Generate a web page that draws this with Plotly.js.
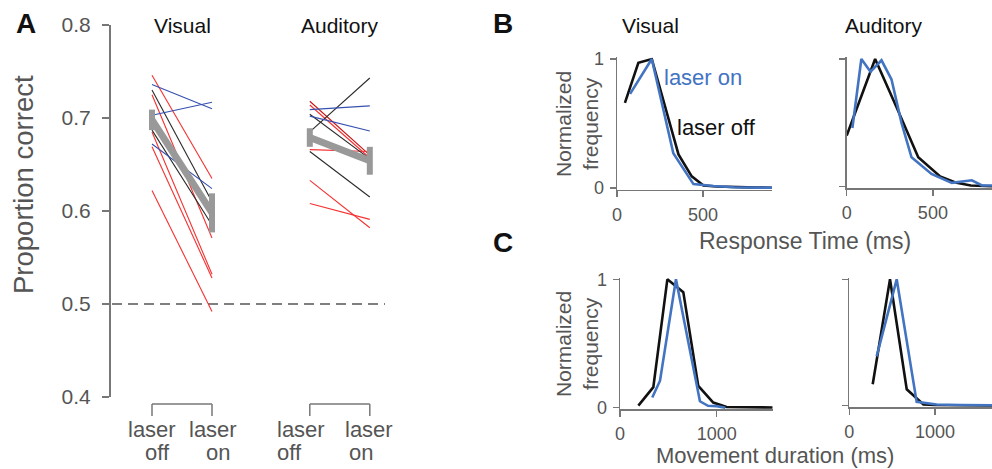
<!DOCTYPE html>
<html>
<head>
<meta charset="utf-8">
<script src="https://cdn.plot.ly/plotly-3.0.1.min.js"></script>
<style>html,body{margin:0;padding:0;background:#fff}#chart{width:992px;height:469px}</style>
</head>
<body>
<div id="chart"></div>
<script>
// ---------- Panel A data (proportion correct per mouse) ----------
const conditionLabels = ["laser off", "laser on"];
const visOffRed   = [0.746, 0.725, 0.685, 0.669, 0.622];
const visOnRed    = [0.635, 0.571, 0.532, 0.528, 0.492];
const visOffBlack = [0.730, 0.687];
const visOnBlack  = [0.610, 0.585];
const visOffBlue  = [0.736, 0.703, 0.672];
const visOnBlue   = [0.710, 0.717, 0.624];
const audOffRed   = [0.718, 0.714, 0.666, 0.633, 0.608];
const audOnRed    = [0.660, 0.657, 0.664, 0.582, 0.591];
const audOffBlack = [0.704, 0.685, 0.664];
const audOnBlack  = [0.656, 0.743, 0.615];
const audOffBlue  = [0.709, 0.702];
const audOnBlue   = [0.713, 0.686];
const visMean = [0.698, 0.598];
const visSem  = [0.011, 0.021];
const audMean = [0.679, 0.654];
const audSem  = [0.010, 0.015];
const yTicksA = [0.4, 0.5, 0.6, 0.7, 0.8];
const chanceLevel = 0.5;

// ---------- Panel B data (response time histograms) ----------
const rtVisOffX = [46, 124, 202, 280, 357, 434, 502, 580, 660, 740, 820, 900];
const rtVisOffY = [0.66, 0.97, 1.0, 0.63, 0.26, 0.09, 0.02, 0.012, 0.008, 0.005, 0.003, 0.002];
const rtVisOnX  = [76, 202, 327, 444, 560, 680, 800, 900];
const rtVisOnY  = [0.73, 1.0, 0.27, 0.03, 0.015, 0.006, 0.003, 0.002];
const rtAudOffX = [0, 165, 290, 415, 542, 638, 720, 800, 843];
const rtAudOffY = [0.40, 1.0, 0.62, 0.23, 0.08, 0.03, 0.01, 0.005, 0.003];
const rtAudOnX  = [33, 85, 138, 202, 260, 318, 376, 492, 610, 726, 785, 843];
const rtAudOnY  = [0.46, 1.0, 0.90, 0.99, 0.84, 0.50, 0.23, 0.10, 0.03, 0.05, 0.01, 0.01];

// ---------- Panel C data (movement duration histograms) ----------
const mdVisOffX = [190, 345, 490, 655, 810, 965, 1103, 1250, 1400, 1580];
const mdVisOffY = [0.016, 0.16, 1.0, 0.90, 0.17, 0.04, 0.005, 0.003, 0.002, 0.002];
const mdVisOnX  = [334, 414, 579, 827, 910, 1000, 1090];
const mdVisOnY  = [0.08, 0.21, 1.0, 0.05, 0.015, 0.012, 0.0];
const mdAudOffX = [273, 475, 670, 865, 1000, 1200, 1400, 1665];
const mdAudOffY = [0.17, 1.0, 0.13, 0.01, 0.005, 0.003, 0.002, 0.001];
const mdAudOnX  = [319, 553, 786, 1020, 1300, 1665];
const mdAudOnY  = [0.39, 1.0, 0.03, 0.01, 0.006, 0.003];

// ---------- layout helpers ----------
const W = 992, H = 469;
const fx = px => px / W;
const fy = py => 1 - py / H;
const GREY = "#555";
const AXC = "#777";
const RED = "#f53030", DARKRED = "#c81010", BLACK = "#2a2a2a", BLUE = "#3550b0";
const LBLUE = "#4274c2";
const FONT = "Liberation Sans, Arial, sans-serif";

// x positions of conditions in panel A (axis units)
const posVis = [0, 1];
const posAud = [2.63, 3.63];

const traces = [];
function pairLines(offArr, onArr, pos, color, ax) {
  offArr.forEach((v, i) => {
    traces.push({
      type: "scatter", mode: "lines", x: pos, y: [v, onArr[i]],
      xaxis: "x", yaxis: "y",
      line: {color: (ax && ax[i]) ? ax[i] : color, width: 1.1},
      hoverinfo: "skip", showlegend: false
    });
  });
}
pairLines(visOffRed, visOnRed, posVis, RED);
pairLines(visOffBlack, visOnBlack, posVis, BLACK);
pairLines(visOffBlue, visOnBlue, posVis, BLUE);
pairLines(audOffRed, audOnRed, posAud, RED, [DARKRED, null, null, null, null]);
pairLines(audOffBlack, audOnBlack, posAud, BLACK);
pairLines(audOffBlue, audOnBlue, posAud, BLUE);

function meanTrace(pos, m, s) {
  traces.push({
    type: "scatter", mode: "lines", x: pos, y: m, xaxis: "x", yaxis: "y",
    line: {color: "#999", width: 7},
    error_y: {type: "data", array: s, visible: true, color: "#999", thickness: 6, width: 0},
    hoverinfo: "skip", showlegend: false
  });
}
meanTrace(posVis, visMean, visSem);
meanTrace(posAud, audMean, audSem);

function hist(x, y, color, xa, ya) {
  traces.push({
    type: "scatter", mode: "lines", x: x, y: y, xaxis: xa, yaxis: ya,
    line: {color: color, width: 2.6}, hoverinfo: "skip", showlegend: false
  });
}
hist(rtVisOffX, rtVisOffY, "#111", "x2", "y2");
hist(rtVisOnX, rtVisOnY, LBLUE, "x2", "y2");
hist(rtAudOffX, rtAudOffY, "#111", "x3", "y3");
hist(rtAudOnX, rtAudOnY, LBLUE, "x3", "y3");
hist(mdVisOffX, mdVisOffY, "#111", "x4", "y4");
hist(mdVisOnX, mdVisOnY, LBLUE, "x4", "y4");
hist(mdAudOffX, mdAudOffY, "#111", "x5", "y5");
hist(mdAudOnX, mdAudOnY, LBLUE, "x5", "y5");

// ---------- axes ----------
const pxPerUnitA = 60;
const xLeftA = 109, xRightA = 385, xZeroA = 152;
const xaxisA = {
  domain: [fx(xLeftA), fx(xRightA)],
  range: [(xLeftA - xZeroA) / pxPerUnitA, (xRightA - xZeroA) / pxPerUnitA],
  showline: false, showgrid: false, zeroline: false, showticklabels: false, ticks: "",
  anchor: "y", fixedrange: true
};
const yaxisA = {
  domain: [fy(397), fy(25)], range: [0.4, 0.8], tickvals: yTicksA,
  ticktext: yTicksA.map(v => v.toFixed(1)),
  ticks: "outside", ticklen: 7, tickwidth: 1.5, tickcolor: AXC,
  showline: true, linecolor: AXC, linewidth: 1.5,
  showgrid: false, zeroline: false, ticklabelstandoff: 7,
  tickfont: {family: FONT, size: 21, color: GREY}, anchor: "free", position: fx(xLeftA)
};

function histAxes(x0px, x1px, xmax, ytop, ybot, tickvals, showYLabels) {
  const pad = 0.012;
  const ppu = (ybot - ytop);
  const xa = {
    domain: [fx(x0px), fx(x1px)], range: [0, xmax], tickvals: tickvals,
    ticks: "outside", ticklen: 6, tickwidth: 1.5, tickcolor: AXC,
    showline: true, linecolor: AXC, linewidth: 1.5, showgrid: false, zeroline: false,
    tickfont: {family: FONT, size: 18, color: GREY}, ticklabelstandoff: 2
  };
  const ya = {
    domain: [fy(ybot + pad * ppu), fy(ytop - pad * ppu)], range: [-pad, 1 + pad],
    tickvals: [0, 1], ticktext: showYLabels ? ["0", "1"] : ["", ""],
    ticks: "outside", ticklen: 6, tickwidth: 1.5, tickcolor: AXC,
    showline: true, linecolor: AXC, linewidth: 1.5, showgrid: false, zeroline: false,
    tickfont: {family: FONT, size: 18, color: GREY}, ticklabelstandoff: 2
  };
  return [xa, ya];
}
const [x2, y2] = histAxes(617, 772, 900, 59, 188, [0, 500], true);
const [x3, y3] = histAxes(846.7, 992, 843, 59, 186.7, [0, 500], false);
const [x4, y4] = histAxes(620, 772.7, 1580, 279.3, 407.7, [0, 1000], true);
const [x5, y5] = histAxes(849.3, 992, 1665, 279.3, 405.7, [0, 1000], false);
x2.anchor = "y2"; y2.anchor = "x2";
x3.anchor = "y3"; y3.anchor = "x3";
x4.anchor = "y4"; y4.anchor = "x4";
x5.anchor = "y5"; y5.anchor = "x5";

// ---------- annotations ----------
const annotations = [];
function ann(text, px, py, size, color, extra) {
  annotations.push(Object.assign({
    text: text, x: fx(px), y: fy(py), xref: "paper", yref: "paper",
    showarrow: false, xanchor: "center", yanchor: "middle",
    font: {family: FONT, size: size, color: color}
  }, extra || {}));
}
ann("<b>A</b>", 26, 23, 28, "#111");
ann("<b>B</b>", 503, 23, 28, "#111");
ann("<b>C</b>", 503, 242, 28, "#111");
ann("Visual", 182, 25, 21, "#111");
ann("Auditory", 340, 25, 21, "#111");
ann("Visual", 650, 25, 21, "#111");
ann("Auditory", 884, 25, 21, "#111");
ann("Proportion correct", 23, 185, 27.5, GREY, {textangle: -90});
ann("Normalized<br>frequency", 577, 124, 21, GREY, {textangle: -90});
ann("Normalized<br>frequency", 577, 344, 21, GREY, {textangle: -90});
ann("Response Time (ms)", 805, 241, 23, GREY);
ann("Movement duration (ms)", 775, 455, 22, GREY);
ann("laser on", 662, 77, 22, LBLUE, {xanchor: "left"});
ann("laser off", 675, 127, 22, "#111", {xanchor: "left"});

// condition labels under panel A
const allPos = [posVis, posAud];
const lineShift = [[[0, 5], [1, 6]], [[-9, -20], [-1, -9]]];
allPos.forEach((pos, g) => {
  pos.forEach((p, c) => {
    const words = conditionLabels[c].split(" ");
    words.forEach((w, k) => {
      annotations.push({
        text: w, x: p, y: fy(k === 0 ? 429 : 452), xref: "x", yref: "paper",
        xshift: lineShift[g][c][k],
        showarrow: false, xanchor: "center", yanchor: "middle",
        font: {family: FONT, size: 22, color: GREY}
      });
    });
  });
});

// ---------- shapes ----------
const shapes = [];
shapes.push({type: "line", xref: "x", yref: "y", x0: (xLeftA + 3 - xZeroA) / pxPerUnitA,
  x1: (xRightA - xZeroA) / pxPerUnitA, y0: chanceLevel, y1: chanceLevel,
  line: {color: "#555", width: 1.5, dash: "10px,6px"}, layer: "below"});
[posVis, posAud].forEach(pos => {
  const yTop = fy(404), yBot = fy(416);
  shapes.push({type: "line", xref: "x", yref: "paper", x0: pos[0], x1: pos[1], y0: yTop, y1: yTop,
    line: {color: AXC, width: 1.5}});
  pos.forEach(p => shapes.push({type: "line", xref: "x", yref: "paper", x0: p, x1: p, y0: yTop, y1: yBot,
    line: {color: AXC, width: 1.5}}));
});

const layout = {
  width: W, height: H, margin: {l: 0, r: 0, t: 0, b: 0},
  paper_bgcolor: "#fff", plot_bgcolor: "rgba(0,0,0,0)",
  showlegend: false, font: {family: FONT},
  xaxis: xaxisA, yaxis: yaxisA,
  xaxis2: x2, yaxis2: y2, xaxis3: x3, yaxis3: y3,
  xaxis4: x4, yaxis4: y4, xaxis5: x5, yaxis5: y5,
  annotations: annotations, shapes: shapes
};
Plotly.newPlot("chart", traces, layout, {staticPlot: true, displayModeBar: false});
</script>
</body>
</html>
